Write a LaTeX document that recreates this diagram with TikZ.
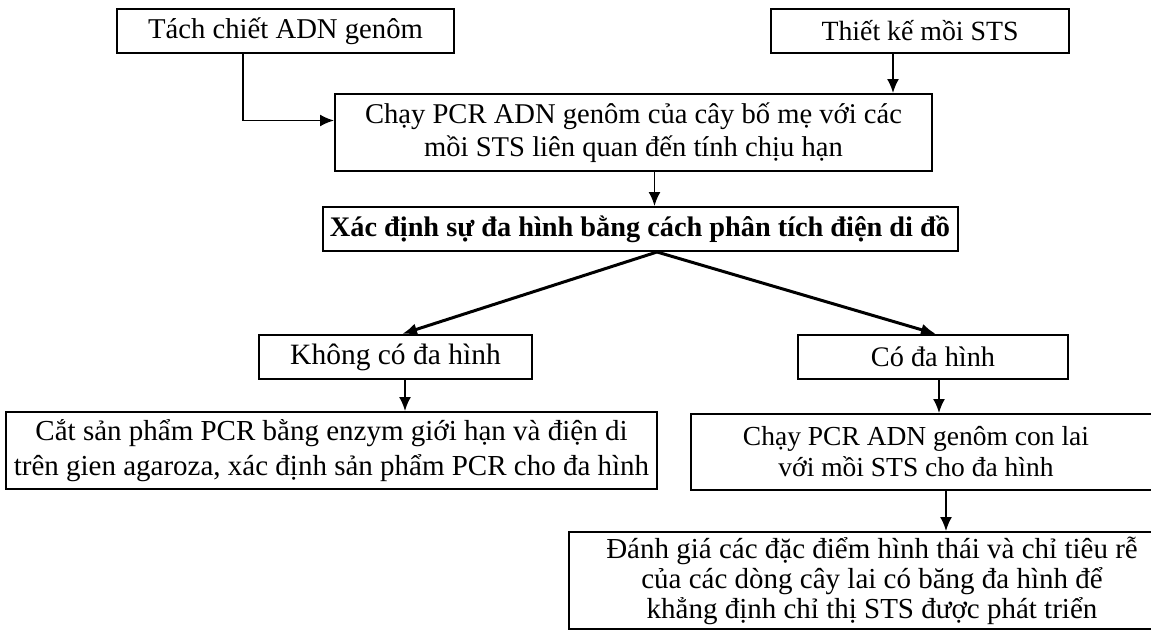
\documentclass[tikz,border=0pt]{standalone}
\usepackage{fontspec}
\setmainfont{Liberation Serif}
\usetikzlibrary{arrows.meta}
\begin{document}
\begin{tikzpicture}[x=1pt,y=-1pt,
  box/.style={draw=black,line width=2pt,align=center,inner sep=0pt,
    font=\fontsize{28}{33}\selectfont},
  txt/.style={align=center,inner sep=0pt},
  arr/.style={line width=1.8pt,draw=black,-{Latex[length=14pt,width=12pt]}},
  diag/.style={line width=3pt,draw=black,-{Latex[length=15pt,width=12pt]}}]
\useasboundingbox[fill=white] (0,0) rectangle (1151,632);
\begin{scope}
\clip (0,0) rectangle (1151,632);
\node[box,minimum width=337pt,minimum height=44pt,font=\fontsize{28.7}{33}\selectfont] (b1) at (285.5,31) {Tách chiết ADN genôm};
\node[box,minimum width=298pt,minimum height=44pt,font=\fontsize{27.8}{33}\selectfont] (b2) at (920,31) {Thiết kế mồi STS};
\node[box,minimum width=597pt,minimum height=77pt,font=\fontsize{28.6}{33}\selectfont] (b3) at (633.5,132.5)
  {Chạy PCR ADN genôm của cây bố mẹ với các\\mồi STS liên quan đến tính chịu hạn};
\node[box,minimum width=635pt,minimum height=44pt,font=\fontsize{28.3}{33}\bfseries] (b4) at (640,229)
  {Xác định sự đa hình bằng cách phân tích điện di đồ};
\node[box,minimum width=273pt,minimum height=44pt,font=\fontsize{29.5}{33}\selectfont] (b5) at (395.5,357) {Không có đa hình};
\node[box,minimum width=270pt,minimum height=44pt,font=\fontsize{28.3}{33}\selectfont] (b6) at (933,357) {Có đa hình};
\node[box,minimum width=651pt,minimum height=77pt,font=\fontsize{29}{35}\selectfont] (b7) at (331.5,450.5)
  {Cắt sản phẩm PCR bằng enzym giới hạn và điện di\\trên gien agaroza, xác định sản phẩm PCR cho đa hình};
\node[box,minimum width=469pt,minimum height=76pt] (b8) at (925.5,452) {};
\node[txt,font=\fontsize{27.5}{31}\selectfont] (t8) at (916,452)
  {Chạy PCR ADN genôm con lai\\với mồi STS cho đa hình};
\node[box,minimum width=606pt,minimum height=97pt,font=\fontsize{29}{30}\selectfont] (b9) at (872,580.5)
  {Đánh giá các đặc điểm hình thái và chỉ tiêu rễ\\của các dòng cây lai có băng đa hình để\\khẳng định chỉ thị STS được phát triển};
\end{scope}
\draw[arr] ([xshift=-42.5pt]b1.south) |- ([yshift=12pt]b3.west);
\draw[arr] ([xshift=-27pt]b2.south) -- ([xshift=-27pt]b2.south |- b3.north);
\draw[arr] ([xshift=21pt]b3.south) -- ([xshift=21pt]b3.south |- b4.north);
\draw[diag] ([xshift=17pt]b4.south) -- ([xshift=6.5pt]b5.north);
\draw[diag] ([xshift=17pt]b4.south) -- ([xshift=3pt]b6.north);
\draw[arr] ([xshift=9.5pt]b5.south) -- ([xshift=9.5pt]b5.south |- b7.north);
\draw[arr] ([xshift=6pt]b6.south) -- ([xshift=6pt]b6.south |- b8.north);
\draw[arr] ([xshift=20.5pt]b8.south) -- ([xshift=20.5pt]b8.south |- b9.north);
\end{tikzpicture}
\end{document}
